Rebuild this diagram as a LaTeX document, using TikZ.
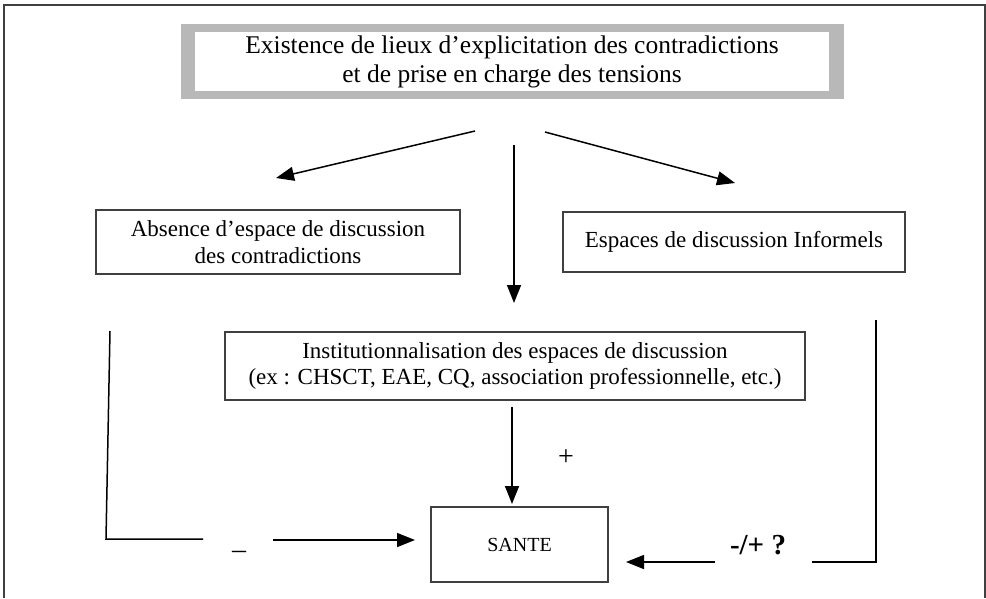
\documentclass[tikz,border=0pt]{standalone}
\usepackage{fontspec}
\setmainfont{Liberation Serif}
\usetikzlibrary{arrows.meta}

\begin{document}
\begin{tikzpicture}[x=1pt,y=-1pt]
	\tikzstyle{box} = [draw=black!75, line width=1.2pt, rectangle, align=center, inner sep=0pt, font=\fontsize{23}{27}\selectfont]
	\tikzstyle{fleche} = [line width=1.5pt, -{Triangle[length=18pt,width=14pt]}]
	\tikzstyle{trait} = [line width=1.5pt]
	\tikzstyle{signe} = [inner sep=0pt, font=\fontsize{28}{28}\selectfont]

	\useasboundingbox (0,0) rectangle (986,598);
	\draw[line width=2pt, draw=black!75] (4,598) -- (4,5) -- (985,5) -- (985,598);

	\node[fill=black!28, minimum width=663pt, minimum height=75pt] (cadre) at (512.5,61.5) {};
	\node[box, draw=none, fill=white, minimum width=634pt, minimum height=59pt, font=\fontsize{25.5}{29}\selectfont] (lieux) at (512,61.5) {Existence de lieux d’explicitation des contradictions\\et de prise en charge des tensions};

	\node[box, minimum width=364pt, minimum height=64pt] (absence) at (278,242) {Absence d’espace de discussion\\des contradictions};
	\node[box, minimum width=342pt, minimum height=60pt] (informel) at (734,242) {Espaces de discussion Informels};
	\node[box, minimum width=580pt, minimum height=68pt, font=\fontsize{23}{26}\selectfont] (institution) at (515,366) {Institutionnalisation des espaces de discussion\\(ex : CHSCT, EAE, CQ, association professionnelle, etc.)};
	\node[box, minimum width=177pt, minimum height=75pt, font=\fontsize{20}{24}\selectfont] (sante) at (519.5,544.5) {SANTE};

	\coordinate (dg) at (475,131);
	\coordinate (ag) at (276,178);
	\coordinate (dd) at (545,132);
	\coordinate (ad) at (735,183);
	\coordinate (dm) at (514,145);
	\coordinate (am) at (514,303);
	\coordinate (di) at (512,407);
	\coordinate (ai) at (512,504);
	\coordinate (g1) at (110,331);
	\coordinate (g2) at (106,539);
	\coordinate (g3) at (203,539);
	\coordinate (g4) at (273,540);
	\coordinate (g5) at (415,540);
	\coordinate (d1) at (876,320);
	\coordinate (d2) at (876,562);
	\coordinate (d3) at (812,562);
	\coordinate (d4) at (715,562);
	\coordinate (d5) at (626,562);

	\draw[fleche] (dg) -- (ag);
	\draw[fleche] (dd) -- (ad);
	\draw[fleche] (dm) -- (am);
	\draw[fleche] (di) -- (ai);

	\draw[trait] (g1) -- (g2) -- (g3);
	\draw[fleche] (g4) -- (g5);
	\draw[trait] (d1) -- (d2) -- (d3);
	\draw[fleche] (d4) -- (d5);

	\node[signe] (plus) at (566,458) {+};
	\node[signe] (moins) at (239,555) {–};
	\node[signe, font=\fontsize{29}{29}\selectfont\bfseries] (doute) at (758,545) {-/+ ?};
\end{tikzpicture}
\end{document}
